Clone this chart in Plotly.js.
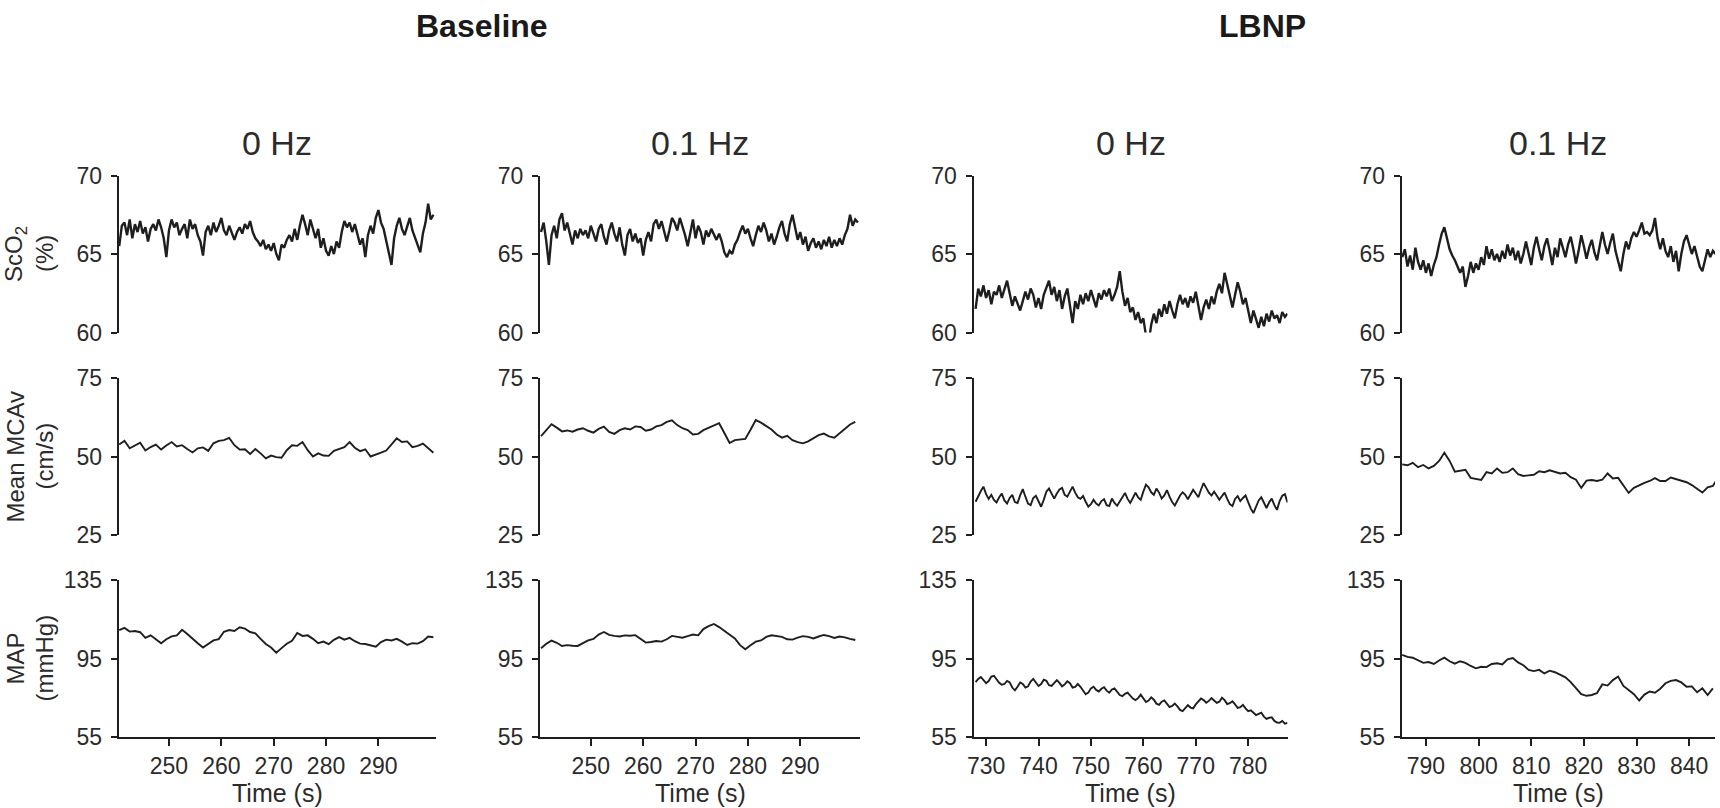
<!DOCTYPE html>
<html>
<head>
<meta charset="utf-8">
<script src="https://cdn.plot.ly/plotly-3.0.1.min.js"></script>
<style>html,body{margin:0;padding:0;background:#fff;}#chart{width:1720px;height:808px;}</style>
</head>
<body>
<div id="chart"></div>
<script>
// ---------------- DATA ----------------
const groupTitles = ['Baseline', 'LBNP'];
const panelTitles = ['0 Hz', '0.1 Hz', '0 Hz', '0.1 Hz'];
const rowTitleLine1 = ['ScO<sub>2</sub>', 'Mean MCAv', 'MAP'];
const rowTitleLine2 = ['(%)', '(cm/s)', '(mmHg)'];
const xAxisTitle = 'Time (s)';

const xTicksBase = [250, 260, 270, 280, 290];
const xTicksLbnp0 = [730, 740, 750, 760, 770, 780];
const xTicksLbnp01 = [790, 800, 810, 820, 830, 840];
const yTicksSco2 = [60, 65, 70];
const yTicksMcav = [25, 50, 75];
const yTicksMap = [55, 95, 135];

const xRangeBase0 = [240.4, 301.0];
const xRangeBase01 = [240.3, 301.4];
const xRangeLbnp0 = [727.6, 787.5];
const xRangeLbnp01 = [785.4, 844.9];
const yRangeSco2 = [60, 70];
const yRangeMcav = [25, 75];
const yRangeMap = [55, 135];

// start time (s) and sampling step (s) of each recorded trace
const sco2Start = [240.5, 240.5, 728, 785.5];
const sco2Step = [0.5, 0.5, 0.5, 0.5];
const mcavStart = [240.5, 240.5, 728, 785.5];
const mcavStep = [1, 1, 0.5, 1];
const mapStart = [240.5, 240.5, 728, 785.5];
const mapStep = [1, 1, 0.5, 1];

// ScO2 (%)
const sco2Base0 = [65.5,66.8,67.0,66.2,67.2,66.0,66.9,66.4,67.1,66.3,66.7,65.8,66.6,66.9,66.5,67.2,66.7,66.0,64.8,66.5,
67.2,66.7,67.0,66.2,66.6,66.9,66.0,67.2,66.6,66.9,66.2,65.8,64.9,66.4,66.8,66.2,67.0,66.4,66.8,67.3,
66.5,66.2,66.8,66.3,65.9,66.4,66.7,66.3,66.9,66.6,67.1,66.4,66.0,65.8,65.5,65.9,65.3,65.6,65.2,65.7,
65.0,64.6,65.6,65.4,65.9,66.2,65.8,66.6,65.9,66.8,67.5,66.9,66.2,67.2,66.5,66.0,66.6,65.4,66.0,65.2,
64.9,65.5,65.0,65.8,65.4,66.4,67.1,66.7,67.0,66.4,66.9,66.2,65.6,66.0,64.8,66.2,66.8,66.3,67.3,67.8,
67.0,66.6,65.8,65.2,64.3,66.0,66.8,67.3,66.6,66.2,66.8,67.3,66.5,66.0,65.5,65.1,66.3,67.0,68.2,67.2,67.5];
const sco2Base01 = [66.4,67.0,65.8,64.3,66.2,66.8,66.0,67.2,67.6,66.5,67.0,66.2,65.6,66.5,66.0,66.6,66.2,66.5,66.0,66.8,
66.3,65.8,66.6,66.9,66.1,65.6,66.5,67.0,66.3,65.8,66.7,65.6,64.9,66.2,66.6,65.8,66.3,65.7,66.0,64.9,
65.9,66.4,65.8,66.9,67.2,66.6,67.1,66.4,65.8,66.5,67.3,67.0,66.5,67.3,66.8,66.2,65.5,66.4,67.2,66.0,
66.8,66.4,65.6,66.5,66.1,66.6,66.2,65.9,66.3,65.8,65.1,64.8,65.2,65.0,65.6,65.9,66.4,66.8,66.3,66.6,
66.0,65.5,66.2,66.8,66.4,67.0,66.5,65.8,66.3,65.6,66.1,66.7,67.1,66.3,65.8,66.9,67.5,66.6,65.9,66.4,
65.6,66.1,65.2,65.7,66.0,65.4,65.8,65.3,65.9,65.5,66.1,65.4,65.9,65.5,66.0,65.6,66.2,66.6,67.5,66.8,67.2,67.0];
const sco2Lbnp0 = [61.5,62.8,62.3,63.0,62.2,62.7,61.8,62.6,62.4,63.0,62.2,62.8,63.3,62.5,61.7,62.3,61.8,61.4,62.0,62.6,
62.1,62.8,62.4,61.6,62.2,61.5,62.4,62.9,63.3,62.4,62.9,62.0,62.7,61.5,62.3,62.8,61.8,60.6,62.0,61.5,
62.4,61.8,62.5,62.0,62.7,62.2,61.6,62.5,62.1,62.7,62.3,62.8,62.0,62.4,62.9,63.9,62.6,61.7,62.2,61.3,
61.6,60.8,61.3,60.6,60.9,59.8,59.3,60.5,61.2,60.6,61.5,61.0,61.8,61.2,62.0,61.4,60.9,61.8,62.4,61.8,
62.2,61.6,62.3,61.9,62.6,61.7,60.8,61.6,62.1,61.5,62.3,61.8,62.6,63.1,62.5,63.8,63.0,62.3,61.6,62.4,
63.2,62.6,61.8,62.2,61.3,60.6,61.4,60.8,60.3,61.0,60.4,61.2,60.7,61.4,60.9,61.1,60.6,61.3,61.0,61.2];
const sco2Lbnp01 = [64.8,65.3,64.2,64.9,64.0,65.4,64.5,64.0,64.6,63.8,64.4,63.6,64.3,64.8,65.6,66.3,66.7,66.0,65.3,64.9,
64.6,64.2,63.8,64.2,62.9,63.6,64.5,63.8,64.4,64.0,64.8,64.3,65.5,64.7,65.3,64.6,65.0,64.5,65.2,64.7,
65.6,64.9,65.4,64.6,65.2,64.4,65.0,65.8,65.0,64.3,65.4,66.1,65.3,64.6,65.5,66.0,65.2,64.3,65.4,64.8,
66.0,65.4,64.8,65.6,66.1,65.3,64.4,65.2,66.2,65.5,64.7,65.4,65.9,65.1,64.6,65.5,66.4,65.6,65.0,65.7,
66.3,65.2,64.5,63.9,65.0,65.8,65.3,66.0,66.4,66.1,66.5,67.0,66.3,66.4,66.2,66.5,67.3,66.0,65.3,66.0,
65.2,64.8,65.5,64.5,65.2,63.9,65.0,65.8,66.2,65.6,65.0,65.5,64.8,64.2,63.9,64.6,65.3,64.8,65.2,65.0];

// Mean MCAv (cm/s)
const mcavBase0 = [53.8,55.0,52.6,53.4,54.4,51.9,53.0,53.8,52.2,53.5,54.6,53.2,53.6,52.4,51.3,52.6,52.9,51.8,54.2,55.0,
55.2,55.9,53.6,52.2,52.3,50.8,52.4,51.0,49.4,50.3,49.8,49.6,52.0,53.6,53.4,54.6,52.0,50.0,51.0,50.3,
50.2,51.8,52.5,53.0,54.6,52.8,51.7,52.3,50.0,50.5,51.2,51.9,54.0,55.8,54.6,54.8,53.0,53.4,54.1,52.5,51.2];
const mcavBase01 = [56.5,58.5,60.3,59.2,58.0,58.3,57.9,58.6,59.0,58.2,57.6,58.8,59.5,57.8,57.2,58.4,59.0,58.6,59.6,59.4,
58.2,58.6,59.6,60.0,61.0,61.5,60.0,59.0,58.4,57.0,57.2,58.4,59.2,60.0,60.6,57.5,54.3,55.2,55.4,55.6,
58.5,61.6,60.8,59.8,58.6,57.0,56.0,56.6,55.2,54.6,54.2,54.8,55.9,56.8,57.3,56.4,56.0,57.3,58.6,60.2,61.0];
const mcavLbnp0 = [35.6,37.5,39.0,40.4,38.0,36.5,37.8,36.2,35.4,37.0,38.2,36.0,35.0,36.8,37.8,35.5,35.2,37.6,39.6,37.2,
35.0,34.5,36.8,37.5,35.8,34.0,36.2,38.8,39.8,38.0,36.6,38.2,39.5,40.0,37.8,37.2,39.0,40.4,38.5,37.0,
36.5,37.4,35.6,34.0,34.8,36.2,35.0,34.4,35.8,36.4,34.5,34.2,36.6,35.2,34.3,35.6,37.2,38.4,36.5,35.2,
36.8,38.5,37.0,36.2,38.8,41.0,40.2,38.6,37.8,39.8,38.5,36.6,37.6,39.3,37.2,35.5,34.4,36.0,37.6,38.6,
37.8,36.4,38.0,39.4,38.2,37.0,39.5,41.5,40.0,38.5,37.6,38.8,37.6,36.2,37.4,38.5,36.5,34.8,34.2,36.5,
37.4,35.8,36.8,37.6,35.5,33.4,32.0,34.0,36.0,37.0,35.0,33.6,35.4,36.6,34.5,33.0,35.8,37.5,38.0,35.4];
const mcavLbnp01 = [47.5,47.2,48.0,46.6,47.3,46.2,47.0,48.6,51.2,48.6,45.2,45.4,45.8,43.2,42.8,42.5,45.0,44.6,46.2,44.8,
45.0,46.2,44.4,43.8,44.0,44.2,45.3,45.0,45.6,45.2,44.6,44.8,43.4,42.6,40.0,42.3,42.5,42.2,42.6,44.6,
43.0,43.2,40.8,38.4,40.0,40.9,41.6,42.2,43.1,42.2,42.2,43.3,42.8,42.5,41.8,40.9,39.6,38.5,40.2,40.6,43.4];

// MAP (mmHg)
const mapBase0 = [109.5,110.6,108.7,109.0,108.4,105.5,106.8,105.0,102.8,104.8,106.3,106.8,109.6,107.5,105.0,102.8,100.6,102.5,104.2,104.9,
108.6,109.5,109.0,110.9,110.2,108.5,107.8,105.0,102.4,100.6,98.0,100.3,102.5,104.0,108.0,106.5,106.8,105.0,102.8,103.6,
102.3,104.5,105.9,104.6,105.5,103.8,102.6,102.4,101.5,101.0,103.4,104.6,104.2,105.0,103.6,101.9,102.8,102.6,103.8,106.2,105.8];
const mapBase01 = [100.2,102.5,104.1,103.0,101.4,101.8,101.5,101.4,102.8,104.2,105.0,107.2,108.5,107.0,106.5,106.2,106.8,106.6,106.9,105.0,
103.1,103.4,103.9,103.6,104.8,106.5,106.1,105.6,106.4,107.2,106.8,110.0,111.5,112.6,111.0,109.0,107.0,105.2,101.8,99.7,
101.8,103.6,104.2,106.0,106.8,106.5,106.0,104.8,104.6,105.6,106.4,106.0,105.2,106.2,107.0,106.4,105.5,106.2,105.8,105.0,104.4];
const mapLbnp0 = [83.0,84.6,85.6,84.0,82.4,83.5,85.8,86.2,84.5,82.6,81.6,82.0,83.6,82.8,80.2,78.8,80.6,82.8,82.0,80.2,
80.8,83.2,84.6,83.0,81.0,82.0,84.2,83.6,81.4,81.0,82.8,84.0,82.6,80.8,81.8,83.4,82.4,80.2,80.5,82.0,
80.6,78.6,76.8,77.6,79.8,80.6,79.0,78.2,79.6,80.4,78.6,77.6,79.2,79.8,78.2,76.4,75.8,77.0,77.6,76.0,
74.6,73.8,74.8,76.6,74.6,72.8,73.6,75.2,74.0,72.0,71.4,73.0,73.6,71.6,70.2,70.8,72.0,70.6,68.8,68.2,
69.8,71.2,70.0,69.6,71.6,73.2,74.6,73.8,72.4,73.4,74.8,73.6,72.4,73.0,75.0,73.8,71.8,72.2,73.2,71.6,
69.8,70.2,71.4,69.6,68.2,68.6,67.6,66.2,66.8,67.4,65.4,64.2,64.8,65.0,63.2,62.4,62.2,63.2,61.8,62.2];
const mapLbnp01 = [96.8,95.8,95.4,94.0,92.8,93.2,92.2,94.0,95.4,93.6,92.4,93.6,92.8,91.2,90.0,90.8,90.6,92.2,92.6,92.0,
94.6,95.2,93.0,91.6,89.2,88.6,89.2,87.4,88.8,88.0,86.8,85.4,83.0,80.0,76.8,76.0,76.4,77.4,81.8,81.2,
84.0,85.8,81.0,79.0,76.8,73.6,76.6,78.2,77.6,79.6,82.4,83.6,84.0,82.8,80.6,80.8,77.8,79.8,76.4,79.8];

// ---------------- LAYOUT / STYLE ----------------
const W = 1720, H = 808;
const FONT = 'Liberation Sans, Arial, Helvetica, sans-serif';
const TXT = '#2b2b2b';
const LINE = '#1e1e1e';

const colPx = [[118.7, 436], [540, 860], [973.5, 1287.5], [1401.7, 1715]];
const rowPx = [[175.5, 332.5], [378, 535], [580, 737]];
const groupPx = [482, 1262];
const lineWidths = [2.4, 1.9, 1.9];

const seriesRows = [
  [sco2Base0, sco2Base01, sco2Lbnp0, sco2Lbnp01],
  [mcavBase0, mcavBase01, mcavLbnp0, mcavLbnp01],
  [mapBase0, mapBase01, mapLbnp0, mapLbnp01]
];
const startRows = [sco2Start, mcavStart, mapStart];
const stepRows = [sco2Step, mcavStep, mapStep];
const xRanges = [xRangeBase0, xRangeBase01, xRangeLbnp0, xRangeLbnp01];
const xTicks = [xTicksBase, xTicksBase, xTicksLbnp0, xTicksLbnp01];
const yRanges = [yRangeSco2, yRangeMcav, yRangeMap];
const yTicks = [yTicksSco2, yTicksMcav, yTicksMap];

const traces = [];
const layout = {
  width: W, height: H,
  margin: {l: 0, r: 0, t: 0, b: 0},
  paper_bgcolor: '#ffffff', plot_bgcolor: '#ffffff',
  showlegend: false,
  font: {family: FONT, color: TXT, size: 23},
  annotations: []
};

for (let r = 0; r < 3; r++) {
  for (let c = 0; c < 4; c++) {
    const k = r * 4 + c + 1;
    const sfx = (k === 1 ? '' : String(k));
    const bottom = (r === 2);
    traces.push({
      type: 'scatter', mode: 'lines',
      x0: startRows[r][c], dx: stepRows[r][c],
      y: seriesRows[r][c],
      xaxis: 'x' + sfx, yaxis: 'y' + sfx,
      line: {color: LINE, width: lineWidths[r]},
      hoverinfo: 'skip'
    });
    layout['xaxis' + sfx] = {
      domain: [colPx[c][0] / W, colPx[c][1] / W],
      anchor: 'y' + sfx,
      range: xRanges[c],
      visible: bottom,
      showgrid: false, zeroline: false,
      showline: bottom, linecolor: LINE, linewidth: 2,
      ticks: bottom ? 'outside' : '', ticklen: 7, tickwidth: 2, tickcolor: LINE,
      tickmode: 'array', tickvals: xTicks[c],
      showticklabels: bottom,
      tickfont: {family: FONT, size: 23, color: TXT}
    };
    layout['yaxis' + sfx] = {
      domain: [1 - rowPx[r][1] / H, 1 - rowPx[r][0] / H],
      anchor: 'x' + sfx,
      range: yRanges[r],
      showgrid: false, zeroline: false,
      showline: true, linecolor: LINE, linewidth: 2,
      ticks: 'outside', ticklen: 6, tickwidth: 2, tickcolor: LINE,
      ticklabelstandoff: 4,
      tickmode: 'array', tickvals: yTicks[r],
      tickfont: {family: FONT, size: 23, color: TXT}
    };
  }
}

// panel titles and x-axis titles
for (let c = 0; c < 4; c++) {
  const cx = (colPx[c][0] + colPx[c][1]) / 2;
  layout.annotations.push({
    xref: 'paper', yref: 'paper', x: cx / W, y: 1 - 143 / H,
    xanchor: 'center', yanchor: 'middle', showarrow: false,
    text: panelTitles[c], font: {family: FONT, size: 34, color: TXT}
  });
  layout.annotations.push({
    xref: 'paper', yref: 'paper', x: cx / W, y: 1 - 793 / H,
    xanchor: 'center', yanchor: 'middle', showarrow: false,
    text: xAxisTitle, font: {family: FONT, size: 25, color: TXT}
  });
}
// group titles
for (let g = 0; g < 2; g++) {
  layout.annotations.push({
    xref: 'paper', yref: 'paper', x: groupPx[g] / W, y: 1 - 26 / H,
    xanchor: 'center', yanchor: 'middle', showarrow: false,
    text: '<b>' + groupTitles[g] + '</b>', font: {family: FONT, size: 32, color: '#1a1a1a'}
  });
}
// row (y-axis) titles, two lines each
for (let r = 0; r < 3; r++) {
  const cy = (rowPx[r][0] + rowPx[r][1]) / 2;
  layout.annotations.push({
    xref: 'paper', yref: 'paper', x: 15 / W, y: 1 - cy / H,
    xanchor: 'center', yanchor: 'middle', showarrow: false, textangle: -90,
    text: rowTitleLine1[r], font: {family: FONT, size: 24, color: TXT}
  });
  layout.annotations.push({
    xref: 'paper', yref: 'paper', x: 44 / W, y: 1 - cy / H,
    xanchor: 'center', yanchor: 'middle', showarrow: false, textangle: -90,
    text: rowTitleLine2[r], font: {family: FONT, size: 24, color: TXT}
  });
}

Plotly.newPlot('chart', traces, layout, {displayModeBar: false, staticPlot: true});
</script>
</body>
</html>
